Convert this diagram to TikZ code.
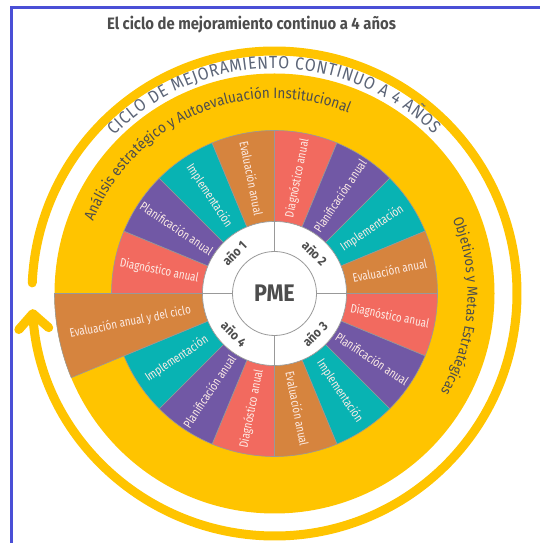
\documentclass[tikz,border=0pt]{standalone}
\usepackage{fontspec}
\setmainfont{Fira Sans}[FakeStretch=0.9]
\newfontfamily\segfont{Fira Sans}[FakeStretch=0.8]
\usetikzlibrary{decorations.text, arrows.meta}

\definecolor{pmeyellow}{RGB}{255,196,0}
\definecolor{diagred}{RGB}{242,106,95}
\definecolor{planpurple}{RGB}{113,88,165}
\definecolor{implteal}{RGB}{8,179,179}
\definecolor{evalorange}{RGB}{214,132,62}
\definecolor{frameblue}{RGB}{74,79,214}
\definecolor{darktext}{RGB}{77,77,77}
\definecolor{ringtext}{RGB}{92,101,119}
\definecolor{segtext}{RGB}{253,236,230}

\begin{document}
\begin{tikzpicture}[
    x=1pt, y=1pt,
    seg/.style={draw=gray!80, line width=0.6pt},
    segtxt/.style={text=segtext, font=\segfont\fontsize{12.3}{14}\selectfont, inner sep=0pt},
    anio/.style={text=darktext, font=\bfseries\fontsize{13}{15}\selectfont, inner sep=0pt},
    divider/.style={draw=gray!80, line width=0.8pt}
]
\useasboundingbox (0,0) rectangle (540,543);
\clip (0,0) rectangle (540,543);
\draw[frameblue, line width=3.5pt] (11.5,-20) rectangle (580,535.5);
\node (title) [text=darktext, font=\bfseries\fontsize{16.5}{19}\selectfont] at (251.5,518) {El ciclo de mejoramiento continuo a 4 años};

\coordinate (C) at (274.5,249.5);
\begin{scope}[shift={(C)}]
% anillo exterior con flecha
\draw[pmeyellow, line width=9pt, line cap=round, -{Straight Barb[length=15pt, width=30pt, round]}]
    (177.5:242.5) arc[start angle=177.5, end angle=-176.3, radius=242.5];
\fill[pmeyellow] (0,0) circle[radius=220];

\foreach \a/\col/\ro/\rt/\txt [count=\i] in {
    157.5/diagred/163/117.5/Diagnóstico anual,
    135/planpurple/163/117.5/Planificación anual,
    112.5/implteal/163/117.5/Implementación,
    90/evalorange/163/117.5/Evaluación anual,
    67.5/diagred/163/117.5/Diagnóstico anual,
    45/planpurple/163/117.5/Planificación anual,
    22.5/implteal/163/117.5/Implementación,
    0/evalorange/163/117.5/Evaluación anual,
    -22.5/diagred/163/117.5/Diagnóstico anual,
    -45/planpurple/163/117.5/Planificación anual,
    -67.5/implteal/163/117.5/Implementación,
    -90/evalorange/163/117.5/Evaluación anual,
    -112.5/diagred/163/117.5/Diagnóstico anual,
    -135/planpurple/163/117.5/Planificación anual,
    -157.5/implteal/163/117.5/Implementación,
    -180/evalorange/220/147/Evaluación anual y del ciclo}{
  \filldraw[seg, fill=\col] (\a:72) arc[start angle=\a, end angle={\a+22.5}, radius=72]
      -- ({\a+22.5}:\ro) arc[start angle={\a+22.5}, end angle=\a, radius=\ro] -- cycle;
  \pgfmathsetmacro\m{\a+11.25}
  \pgfmathsetmacro\rot{cos(\m)<0 ? \m+180 : \m}
  \node (seg\i) [segtxt, rotate=\rot] at (\m:\rt) {\txt};
}

\filldraw[fill=white, draw=gray!80, line width=0.6pt] (0,0) circle[radius=72];
\draw[divider] (0,0) circle[radius=42];
\foreach \a in {0,90,180,270}
  \draw[divider] (\a:42) -- (\a:72);

\node (anio1) [anio, rotate=45] at (135:57) {año 1};
\node (anio2) [anio, rotate=-45] at (45:57) {año 2};
\node (anio3) [anio, rotate=45] at (-45:57) {año 3};
\node (anio4) [anio, rotate=-45] at (-135:57) {año 4};
\node (pme) [text=darktext, font=\bfseries\fontsize{24}{27}\selectfont] at (0,0) {PME};

\path[decorate, decoration={text along path, text align=center,
    text={|\fontsize{15}{17}\selectfont\color{darktext}|Análisis estratégico y Autoevaluación Institucional}}]
    (181:195) arc[start angle=181, end angle=45, radius=195];
\path[decorate, decoration={text along path, text align=center,
    text={|\fontsize{14.5}{16}\selectfont\color{darktext}|Objetivos y Metas Estratégicas}}]
    (32:193) arc[start angle=32, end angle=-40, radius=193];
\path[decorate, decoration={text along path, text align=fit to path,
    text={|\fontsize{17.5}{19}\selectfont\color{ringtext}|CICLO DE MEJORAMIENTO CONTINUO A 4 AÑOS}}]
    (135.5:225) arc[start angle=135.5, end angle=45, radius=225];
\end{scope}
\end{tikzpicture}
\end{document}
